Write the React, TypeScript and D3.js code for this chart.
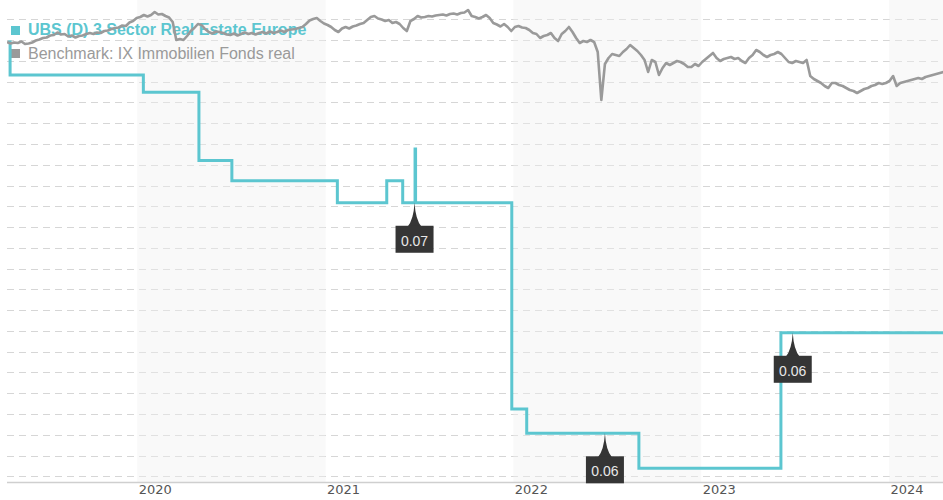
import React from "react";
import * as d3 from "d3";

const W = 943;
const H = 500;

const parse = d3.timeParse("%Y-%m-%d");

// x domain and year ticks
const rangeStart = "2019-04-23";
const rangeEnd = "2024-04-15";
const yearTicks = [2020, 2021, 2022, 2023, 2024];
const shadedYears = [2020, 2022, 2024];

// fund line (step)
const fundDates = [
  "2019-04-25", "2019-04-29", "2020-01-13", "2020-04-30", "2020-07-03",
  "2021-01-24", "2021-04-30", "2021-05-31", "2021-06-24", "2021-06-25",
  "2021-12-29", "2022-01-27", "2022-09-02", "2023-06-05", "2024-04-15",
];
const fundValues = [
  100.91, 99.32, 98.49, 95.2, 94.23,
  93.17, 94.23, 93.17, 95.76, 93.17,
  83.24, 82.07, 80.39, 86.91, 86.91,
];

// benchmark, weekly values from rangeStart
const benchValues = [
  105.8, 105.65, 105.75, 105.7, 105.85, 105.6, 105.65, 105.75, 105.95, 106.05,
  106.2, 106.25, 106.45, 106.5, 106.75, 106.55, 106.6, 106.35, 106.45, 106.25,
  106.4, 106.45, 106.6, 106.7, 106.6, 106.75, 106.7, 106.9, 106.95, 107.1,
  107.2, 107.25, 107.45, 107.4, 107.75, 107.9, 108.2, 108.3, 108.5, 108.35,
  108.5, 108.8, 108.55, 108.6, 108.4, 108.25, 107.8, 106.0, 106.1, 106.0,
  106.4, 106.9, 107.2, 107.6, 107.5, 107.1, 106.8, 106.65, 106.85, 106.8,
  106.7, 106.55, 106.5, 106.65, 106.45, 106.6, 106.75, 106.6, 106.7, 106.55,
  106.7, 106.8, 106.65, 106.85, 106.7, 106.8, 106.95, 106.8, 107.0, 107.05,
  107.1, 107.2, 107.3, 107.6, 107.95, 108.1, 108.2, 107.9, 107.65, 107.5,
  107.3, 107.0, 106.8, 107.15, 107.3, 107.15, 107.35, 107.45, 107.6, 107.7,
  108.0, 108.3, 108.4, 108.15, 108.05, 107.9, 108.0, 107.7, 107.8, 107.6,
  107.2, 106.9, 107.9, 108.1, 108.4, 108.25, 108.3, 108.4, 108.35, 108.45,
  108.5, 108.55, 108.45, 108.6, 108.65, 108.55, 108.7, 108.75, 109.0, 108.4,
  108.3, 108.15, 108.3, 108.5, 108.2, 107.7, 107.55, 107.35, 107.6, 107.3,
  106.9, 107.3, 107.4, 107.25, 107.2, 107.0, 106.7, 106.6, 106.2, 106.4,
  106.5, 106.7, 106.2, 105.9, 106.6, 106.9, 107.3, 106.8, 106.2, 105.7,
  105.9, 105.8, 106.0, 105.8, 104.8, 100.0, 103.6, 104.2, 104.6, 104.5,
  104.4, 104.8, 105.1, 105.5, 105.2, 104.9, 104.5, 104.0, 102.8, 104.0,
  103.8, 102.5, 103.2, 103.7, 103.5, 103.7, 103.9, 103.8, 103.6, 103.3,
  103.3, 103.6, 103.4, 103.8, 104.1, 104.4, 104.7, 104.2, 103.9, 104.1,
  104.2, 104.3, 104.1, 104.2, 103.9, 103.7, 104.2, 104.5, 105.0, 104.8,
  104.5, 104.3, 104.5, 104.6, 104.8, 104.6, 104.2, 103.8, 103.7, 103.9,
  103.8, 103.7, 104.0, 102.4, 102.1, 101.9, 101.7, 101.4, 101.2, 101.7,
  101.7, 101.5, 101.4, 101.2, 101.0, 100.9, 100.7, 100.9, 101.1, 101.2,
  101.4, 101.5, 101.7, 101.6, 101.7, 101.9, 102.4, 101.4, 101.7, 101.8,
  101.9, 102.0, 102.1, 102.2, 102.1, 102.3, 102.4, 102.5, 102.6, 102.7, 102.8,
];

// dividend flags
const flagDates = ["2021-06-23", "2022-06-28", "2023-06-28"];
const flagLabels = ["0.07", "0.06", "0.06"];

const gridValues = d3.range(80, 103);

const fundName = "UBS (D) 3 Sector Real Estate Europe";
const benchName = "Benchmark: IX Immobilien Fonds real";

const TEAL = "#5cc6d0";
const GREY = "#9a9a9a";
const FONT = "'Liberation Sans', Arial, sans-serif";

export default function App() {
  const left = 7;
  const right = W;
  const bottom = 482;

  const x = d3
    .scaleTime()
    .domain([parse(rangeStart)!, parse(rangeEnd)!])
    .range([left, right]);
  const y = d3.scaleLinear().domain([79.726, 102.932]).range([bottom, 0]);
  const yBench = d3.scaleLinear().domain([61.8, 110]).range([bottom, 0]);

  const fund = fundDates.map((d, i) => ({ date: parse(d)!, value: fundValues[i] }));
  const start = parse(rangeStart)!;
  const bench = benchValues.map((v, i) => ({
    date: d3.timeDay.offset(start, 7 * i),
    value: v,
  }));

  const fundLine = d3
    .line<{ date: Date; value: number }>()
    .x((d) => x(d.date))
    .y((d) => y(d.value))
    .curve(d3.curveStepAfter);
  const benchLine = d3
    .line<{ date: Date; value: number }>()
    .x((d) => x(d.date))
    .y((d) => yBench(d.value));

  const bisect = d3.bisector((d: { date: Date }) => d.date).right;
  const flags = flagDates.map((d, i) => {
    const date = parse(d)!;
    const idx = Math.max(0, bisect(fund, date) - 1);
    return { fx: x(date), fy: y(fund[idx].value), label: flagLabels[i] };
  });

  return (
    <svg
      width={W}
      height={H}
      style={{ position: "absolute", left: 0, top: 0, background: "#fff" }}
    >
      <defs>
        <clipPath id="plot">
          <rect x={left} y={0} width={right - left} height={bottom} />
        </clipPath>
      </defs>

      {gridValues.map((v) => (
        <line
          key={v}
          x1={left}
          x2={right}
          y1={Math.round(y(v)) + 0.5}
          y2={Math.round(y(v)) + 0.5}
          stroke="#d6d6d6"
          strokeDasharray="7,5"
        />
      ))}

      {shadedYears.map((yr) => {
        const x0 = x(new Date(yr, 0, 1));
        const x1 = Math.min(x(new Date(yr + 1, 0, 1)), right);
        return (
          <rect
            key={yr}
            x={x0}
            y={0}
            width={x1 - x0}
            height={bottom}
            fill="#f1f1f1"
            opacity={0.42}
          />
        );
      })}

      <line x1={left} x2={right} y1={bottom + 0.5} y2={bottom + 0.5} stroke="#cfcfcf" strokeWidth={1.5} />

      <g fontFamily={FONT} fontSize={16}>
        <rect x={11} y={26} width={9} height={9} fill={TEAL} />
        <text x={28} y={35} fill={TEAL} fontWeight="bold">
          {fundName}
        </text>
        <rect x={11} y={49} width={9} height={9} fill="#9a9a9a" />
        <text x={28} y={58.5} fill="#9a9a9a">
          {benchName}
        </text>
      </g>

      <g clipPath="url(#plot)">
        <path d={fundLine(fund) ?? ""} fill="none" stroke={TEAL} strokeWidth={3} />
        <path
          d={benchLine(bench) ?? ""}
          fill="none"
          stroke={GREY}
          strokeWidth={2.6}
          strokeLinejoin="round"
        />
      </g>

      {flags.map((f, i) => (
        <g key={i}>
          <path
            d={`M${f.fx},${f.fy} Q${f.fx + 1},${f.fy + 17} ${f.fx + 7},${f.fy + 24} L${f.fx - 7},${f.fy + 24} Q${f.fx - 1},${f.fy + 17} ${f.fx},${f.fy} Z`}
            fill="#353535"
          />
          <rect x={f.fx - 19} y={f.fy + 23} width={38} height={27} fill="#353535" />
          <text
            x={f.fx}
            y={f.fy + 43}
            textAnchor="middle"
            fontFamily={FONT}
            fontSize={14}
            fill="#e8e8e8"
          >
            {f.label}
          </text>
        </g>
      ))}

      {yearTicks.map((yr) => (
        <text
          key={yr}
          x={x(new Date(yr, 0, 1)) + 1.5}
          y={494}
          fontFamily="'DejaVu Sans', Verdana, sans-serif"
          fontSize={13}
          fill="#555"
        >
          {yr}
        </text>
      ))}
    </svg>
  );
}
